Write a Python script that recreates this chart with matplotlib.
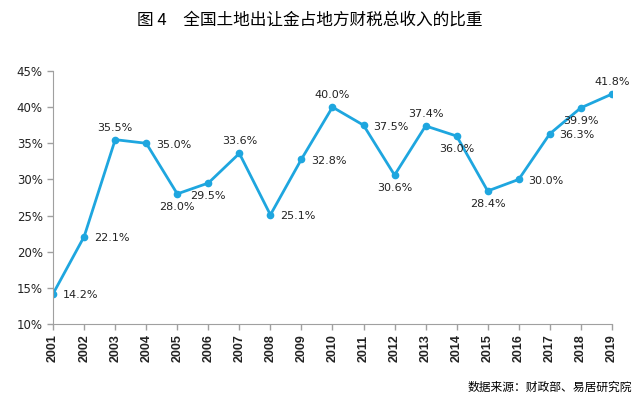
import matplotlib.pyplot as plt

plt.rcParams['font.family'] = ['Noto Sans CJK SC', 'DejaVu Sans']

# 数据
years = [2001, 2002, 2003, 2004, 2005, 2006, 2007, 2008, 2009, 2010,
         2011, 2012, 2013, 2014, 2015, 2016, 2017, 2018, 2019]
share = [14.2, 22.1, 35.5, 35.0, 28.0, 29.5, 33.6, 25.1, 32.8, 40.0,
         37.5, 30.6, 37.4, 36.0, 28.4, 30.0, 36.3, 39.9, 41.8]
# 标签位置: r=右, a=上, b=下
label_pos = ['r', 'r', 'a', 'r', 'b', 'b', 'a', 'r', 'r', 'a',
             'r', 'b', 'a', 'b', 'b', 'r', 'r', 'b', 'a']

fig = plt.figure(figsize=(6.4, 4.01), dpi=100)
ax = fig.add_axes([0.083, 0.192, 0.873, 0.631])

color = '#1ea6df'
ax.plot(years, share, color=color, linewidth=2, marker='o', markersize=4.5)

offsets = {'r': (7, -1, 'left', 'center'),
           'a': (0, 5, 'center', 'bottom'),
           'b': (0, -6, 'center', 'top')}
for x, y, p in zip(years, share, label_pos):
    dx, dy, ha, va = offsets[p]
    ax.annotate(f'{y:.1f}%', (x, y), xytext=(dx, dy), textcoords='offset points',
                ha=ha, va=va, fontsize=8, family='DejaVu Sans', color='#222222')

ax.set_xlim(2001, 2019)
ax.set_ylim(10, 45)
ax.set_xticks(years)
ax.set_xticklabels([str(y) for y in years], rotation=90, fontsize=9,
                   family='Liberation Sans', fontweight='bold', color='#222222')
ax.set_yticks(range(10, 50, 5))
ax.set_yticklabels([f'{v}%' for v in range(10, 50, 5)], fontsize=8.5,
                   family='DejaVu Sans', color='#222222')

for s in ['top', 'right']:
    ax.spines[s].set_visible(False)
for s in ['left', 'bottom']:
    ax.spines[s].set_color('#a0a0a0')
ax.tick_params(axis='both', color='#a0a0a0', length=4, width=1)

fig.text(0.484, 0.95, '图 4　全国土地出让金占地方财税总收入的比重',
         ha='center', va='center', fontsize=12, fontweight='medium')
fig.text(0.988, 0.035, '数据来源：财政部、易居研究院',
         ha='right', va='center', fontsize=8.5)

fig.savefig('out.png', dpi=100)
